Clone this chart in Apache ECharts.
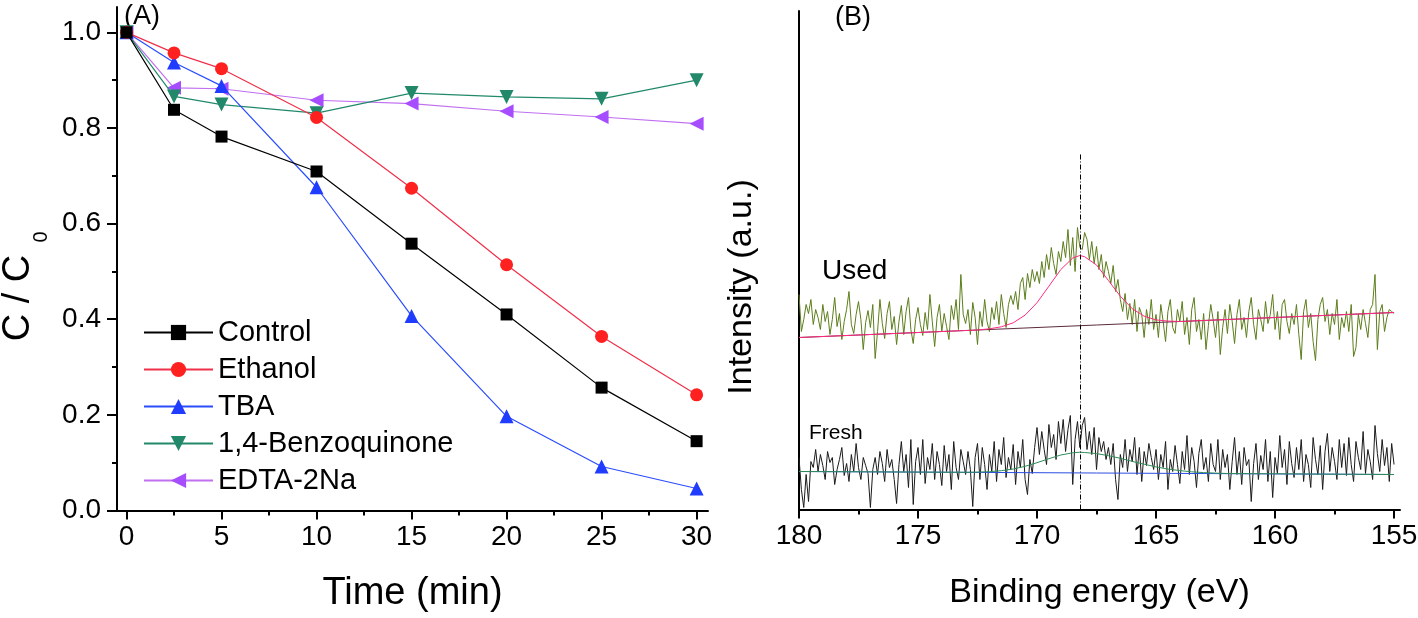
<!DOCTYPE html>
<html lang="en">
<head>
  <meta charset="UTF-8">
  <title>Scavenger test and XPS</title>
  <style>
    html, body { margin: 0; padding: 0; background: #fff; }
    #main { width: 1418px; height: 618px; }
  </style>
</head>
<body>
  <div id="main"></div>
  <script src="https://cdn.jsdelivr.net/npm/echarts@6/dist/echarts.min.js"></script>
  <script>
    // ---- panel A: C/C0 vs time ----
    var timeA = [0, 2.5, 5, 10, 15, 20, 25, 30];
    var control = [1.0, 0.838, 0.782, 0.709, 0.558, 0.410, 0.257, 0.145];
    var ethanol = [1.0, 0.957, 0.924, 0.822, 0.674, 0.514, 0.364, 0.242];
    var tba = [1.0, 0.937, 0.888, 0.676, 0.407, 0.197, 0.092, 0.046];
    var benzo = [1.0, 0.866, 0.849, 0.831, 0.873, 0.865, 0.861, 0.900];
    var edta = [1.0, 0.884, 0.882, 0.858, 0.851, 0.835, 0.823, 0.809];
    var seriesNames = ['Control', 'Ethanol', 'TBA', '1,4-Benzoquinone', 'EDTA-2Na'];
    var xTicksA = [0, 5, 10, 15, 20, 25, 30];
    var xMinorA = [2.5, 7.5, 12.5, 17.5, 22.5, 27.5];
    var yTicksA = [0, 0.2, 0.4, 0.6, 0.8, 1.0];
    var yMinorA = [0.1, 0.3, 0.5, 0.7, 0.9];

    // ---- panel B: S 2p XPS, 180 -> 155 eV, 0.1 eV step ----
    var eStart = 180, eStep = 0.1;
    var usedCounts = [
      215, 178, 190, 205, 196, 210, 185, 200, 192, 180,
      205, 188, 198, 175, 190, 212, 183, 196, 170, 188,
      200, 218, 185, 176, 195, 208, 190, 160, 187, 199,
      182, 205, 151, 178, 210, 186, 171, 196, 208, 180,
      193, 165, 188, 204, 175, 198, 212, 180, 166, 190,
      202, 185, 174, 197, 180, 215, 188, 163, 192, 205,
      178, 196, 183, 170, 204, 190, 210, 180, 235, 195,
      186, 200, 175, 207, 192, 165, 198, 183, 210, 188,
      178, 202, 190, 208, 185, 215, 196, 182, 205, 214,
      205, 218, 200, 226, 232, 210, 236, 222, 240, 228,
      238, 226, 248, 232, 255, 240, 262, 246, 235, 258,
      248, 268, 252, 280, 244, 272, 238, 282, 262, 260,
      277, 270, 250, 268, 246, 263, 240, 255, 232, 248,
      238, 226, 244, 218, 230, 210, 198, 216, 190, 206,
      185, 210, 178, 202, 195, 172, 200, 185, 210, 180,
      195, 172, 205, 188, 168, 198, 210, 182, 176, 200,
      188, 208, 175, 192, 165, 200, 212, 178, 190, 170,
      196, 160, 184, 205, 190, 172, 198, 155, 182, 200,
      176, 205, 188, 166, 195, 210, 180, 192, 172, 198,
      212, 185, 170, 200, 190, 178, 208, 186, 195, 215,
      180, 198, 170, 205, 210, 188, 176, 196, 185, 205,
      175, 150, 198, 210, 182, 196, 168, 149, 190, 205,
      212, 188, 200, 175, 196, 185, 210, 170, 192, 182,
      198, 178, 205, 153, 162, 195, 180, 200, 186, 172,
      200, 205, 235, 160, 198, 205, 178, 192, 200, 198,
      196
    ];
    var freshCounts = [
      52, 20, 2, 35, 8, 48, 42, 60, 38, 55,
      44, 30, 58, 47, 52, 25, 40, 50, 62, 34,
      46, 28, 55, 38, 66, 42, 30, 52, 44, 36,
      2, 40, 52, 35, 58, 46, 28, 60, 42, 50,
      30, 6, 45, 68, 38, 55, 22, 70, 5, 48,
      62, 35, 70, 26, 52, 40, 66, 30, 58, 45,
      24, 64, 38, 55, 20, 68, 42, 30, 60, 48,
      35, 58, 40, 3, 52, 66, 30, 62, 45, 20,
      55, 38, 68, 28, 60, 45, 72, 32, 52, 40,
      65, 25, 58, 42, 70, 30, 15, 50, 36, 62,
      82, 55, 78, 60, 45, 85, 62, 75, 50, 88,
      66, 90, 58, 80, 94, 25, 70, 88, 62, 84,
      92, 60, 78, 55, 82, 40, 72, 58, 68, 50,
      62, 45, 66, 30, 10, 55, 42, 70, 38, 60,
      48, 72, 35, 62, 28, 58, 44, 66, 52, 40,
      60, 30, 55, 42, 68, 20, 50, 38, 64, 45,
      26, 58, 40, 74, 35, 62, 48, 22, 56, 70,
      40, 52, 28, 66, 45, 38, 70, 30, 60, 42,
      55, 20, 48, 72, 35, 58, 25, 62, 44, 50,
      8, 46, 66, 30, 54, 40, 70, 28, 58, 12,
      52, 36, 74, 42, 60, 25, 68, 46, 32, 62,
      40, 70, 28, 55, 45, 22, 72, 50, 35, 64,
      20, 58, 76, 38, 62, 48, 30, 70, 42, 66,
      34, 72, 45, 28, 68, 52, 40, 78, 36, 60,
      48, 30, 84, 56, 38, 70, 44, 62, 28, 66,
      45
    ];
    // fitted envelopes and backgrounds [eV, intensity]
    var usedBg = [[180, 172], [155, 197]];
    var usedFit = [[180, 172], [173, 179], [172.5, 179.5], [172, 180.7], [171.5, 182.7], [171, 186.7],
      [170.5, 194.4], [170, 206.8], [169.5, 223.3], [169, 240], [168.5, 251.5], [168.2, 254],
      [168, 252.8], [167.5, 244.5], [167, 229], [166.5, 213.3], [166, 200.8], [165.5, 193.3],
      [165, 189.6], [164.5, 188.4], [164, 188], [163, 189], [155, 197]];
    var freshBg = [[180, 38], [155, 35]];
    var freshFit = [[180, 38], [173, 37.2], [172.5, 37.4], [172, 37.8], [171.5, 38.8], [171, 40.5],
      [170.5, 43.2], [170, 46.8], [169.5, 50.8], [169, 54.5], [168.5, 56.7], [168.2, 57.3],
      [168, 57.0], [167.5, 55.9], [167, 53.8], [166.5, 51.2], [166, 48.1], [165.5, 45.3],
      [165, 42.6], [164.5, 40.4], [164, 38.9], [163.5, 37.7], [163, 36.9], [162.5, 36.4],
      [162, 36], [155, 35]];
    var peakPos = 168.2, peakLineTop = 357;
    var xTicksB = [180, 175, 170, 165, 160, 155];
    var xMinorB = [177.5, 172.5, 167.5, 162.5, 157.5];

    function pairs(xs, ys) {
      return ys.map(function (v, i) { return [xs[i], v]; });
    }
    function spectrum(counts) {
      return counts.map(function (v, i) { return [+(eStart - i * eStep).toFixed(1), v]; });
    }

    var font = 'Liberation Sans, Arial, sans-serif';
    var black = '#000';

    var myChart = echarts.init(document.getElementById('main'));

    var colorsA = ['#000000', '#ff2020', '#1f3cff', '#21896a', '#a64dff'];
    var lineColorsA = ['#000000', '#f0304a', '#2a4cff', '#21896a', '#c070f0'];
    var symbolsA = ['rect', 'circle', 'triangle', 'triangle', 'triangle'];
    var rotA = [0, 0, 0, 180, 90];
    var sizesA = [12, 13, 14, 14, 14];
    var valuesA = [control, ethanol, tba, benzo, edta];

    var seriesA = valuesA.map(function (vals, k) {
      return {
        name: seriesNames[k],
        type: 'line',
        xAxisIndex: 0,
        yAxisIndex: 0,
        data: pairs(timeA, vals),
        symbol: symbolsA[k],
        symbolRotate: rotA[k],
        symbolSize: sizesA[k],
        showAllSymbol: true,
        itemStyle: { color: colorsA[k] },
        lineStyle: { color: lineColorsA[k], width: 1.2 },
        z: 10 - k
      };
    });

    function thinLine(data, color, z, extra) {
      var s = {
        type: 'line',
        xAxisIndex: 2,
        yAxisIndex: 2,
        data: data,
        symbol: 'none',
        lineStyle: { color: color, width: 1 },
        z: z,
        silent: true
      };
      if (extra) Object.keys(extra).forEach(function (k) { s[k] = extra[k]; });
      return s;
    }

    var seriesB = [
      thinLine(spectrum(usedCounts), '#5c7d1b', 2, {
        markLine: {
          silent: true,
          symbol: 'none',
          label: { show: false },
          lineStyle: { color: black, width: 1, type: [5, 2, 1, 2] },
          data: [[{ coord: [peakPos, 0] }, { coord: [peakPos, peakLineTop] }]]
        }
      }),
      thinLine(usedBg, '#5a2a3c', 3),
      thinLine(usedFit, '#ff2a80', 4),
      thinLine(spectrum(freshCounts), '#1a1a1a', 2),
      thinLine(freshBg, '#2a4de0', 3),
      thinLine(freshFit, '#2e8b57', 4)
    ];

    var tickLabel = { color: black, fontFamily: font };

    option = {
      animation: false,
      grid: [
        { left: 117, right: 710, top: 7, bottom: 107.5, outerBoundsMode: 'none', containLabel: false },
        { left: 799, right: 18, top: 11, bottom: 108.5, outerBoundsMode: 'none', containLabel: false }
      ],
      legend: {
        data: seriesNames,
        orient: 'vertical',
        left: 143,
        top: 318,
        padding: 0,
        itemWidth: 69,
        itemHeight: 19,
        itemGap: 8,
        selectedMode: false,
        textStyle: { color: black, fontSize: 29, fontFamily: font }
      },
      xAxis: [
        {
          type: 'value', gridIndex: 0, position: 'bottom', min: -0.5, max: 30.6,
          name: 'Time (min)', nameLocation: 'middle', nameGap: 64,
          nameTextStyle: { color: black, fontSize: 38, fontFamily: font },
          axisLine: { onZero: false, lineStyle: { color: black, width: 2 } },
          axisTick: { customValues: xTicksA, length: 9, lineStyle: { color: black, width: 2 } },
          axisLabel: Object.assign({ customValues: xTicksA, fontSize: 28, margin: 13 }, tickLabel),
          splitLine: { show: false }
        },
        {
          type: 'value', gridIndex: 0, position: 'bottom', min: -0.5, max: 30.6,
          axisLine: { show: false, onZero: false },
          axisTick: { customValues: xMinorA, length: 5, lineStyle: { color: black, width: 2 } },
          axisLabel: { show: false },
          splitLine: { show: false }
        },
        {
          type: 'value', gridIndex: 1, position: 'bottom', min: 154.75, max: 180, inverse: true,
          name: 'Binding energy (eV)', nameLocation: 'middle', nameGap: 66,
          nameTextStyle: { color: black, fontSize: 34, fontFamily: font },
          axisLine: { onZero: false, lineStyle: { color: black, width: 2 } },
          axisTick: { customValues: xTicksB, length: 9, lineStyle: { color: black, width: 2 } },
          axisLabel: Object.assign({ customValues: xTicksB, fontSize: 28, margin: 13 }, tickLabel),
          splitLine: { show: false }
        },
        {
          type: 'value', gridIndex: 1, position: 'bottom', min: 154.75, max: 180, inverse: true,
          axisLine: { show: false, onZero: false },
          axisTick: { customValues: xMinorB, length: 5, lineStyle: { color: black, width: 2 } },
          axisLabel: { show: false },
          splitLine: { show: false }
        }
      ],
      yAxis: [
        {
          type: 'value', gridIndex: 0, position: 'left', min: 0, max: 1.053,
          axisLine: { show: true, onZero: false, lineStyle: { color: black, width: 2 } },
          axisTick: { show: true, customValues: yTicksA, length: 10, lineStyle: { color: black, width: 2 } },
          axisLabel: Object.assign({
            customValues: yTicksA, fontSize: 28, margin: 16,
            formatter: function (v) { return v.toFixed(1); }
          }, tickLabel),
          splitLine: { show: false }
        },
        {
          type: 'value', gridIndex: 0, position: 'left', min: 0, max: 1.053,
          axisLine: { show: false, onZero: false },
          axisTick: { show: true, customValues: yMinorA, length: 5, lineStyle: { color: black, width: 2 } },
          axisLabel: { show: false },
          splitLine: { show: false }
        },
        {
          type: 'value', gridIndex: 1, position: 'left', min: 0, max: 498.5,
          axisLine: { show: true, onZero: false, lineStyle: { color: black, width: 2 } },
          axisTick: { show: false },
          axisLabel: { show: false },
          splitLine: { show: false }
        }
      ],
      graphic: [
        { type: 'text', left: 124, top: 3, style: { text: '(A)', font: '27px ' + font, fill: black } },
        { type: 'text', left: 835, top: 4, style: { text: '(B)', font: '27px ' + font, fill: black } },
        { type: 'text', left: 822, top: 257, style: { text: 'Used', font: '28px ' + font, fill: black } },
        { type: 'text', left: 809, top: 423, style: { text: 'Fresh', font: '21px ' + font, fill: black } },
        {
          type: 'text', x: 19, y: 298, rotation: Math.PI / 2,
          style: { text: 'C / C', font: '38px ' + font, fill: black, textAlign: 'center', textVerticalAlign: 'middle' }
        },
        {
          type: 'text', x: 41, y: 237, rotation: Math.PI / 2,
          style: { text: '0', font: '20px ' + font, fill: black, textAlign: 'center', textVerticalAlign: 'middle' }
        },
        {
          type: 'text', x: 742, y: 287, rotation: Math.PI / 2,
          style: { text: 'Intensity (a.u.)', font: '34px ' + font, fill: black, textAlign: 'center', textVerticalAlign: 'middle' }
        }
      ],
      series: seriesA.concat(seriesB)
    };

    option && myChart.setOption(option);
  </script>
</body>
</html>
